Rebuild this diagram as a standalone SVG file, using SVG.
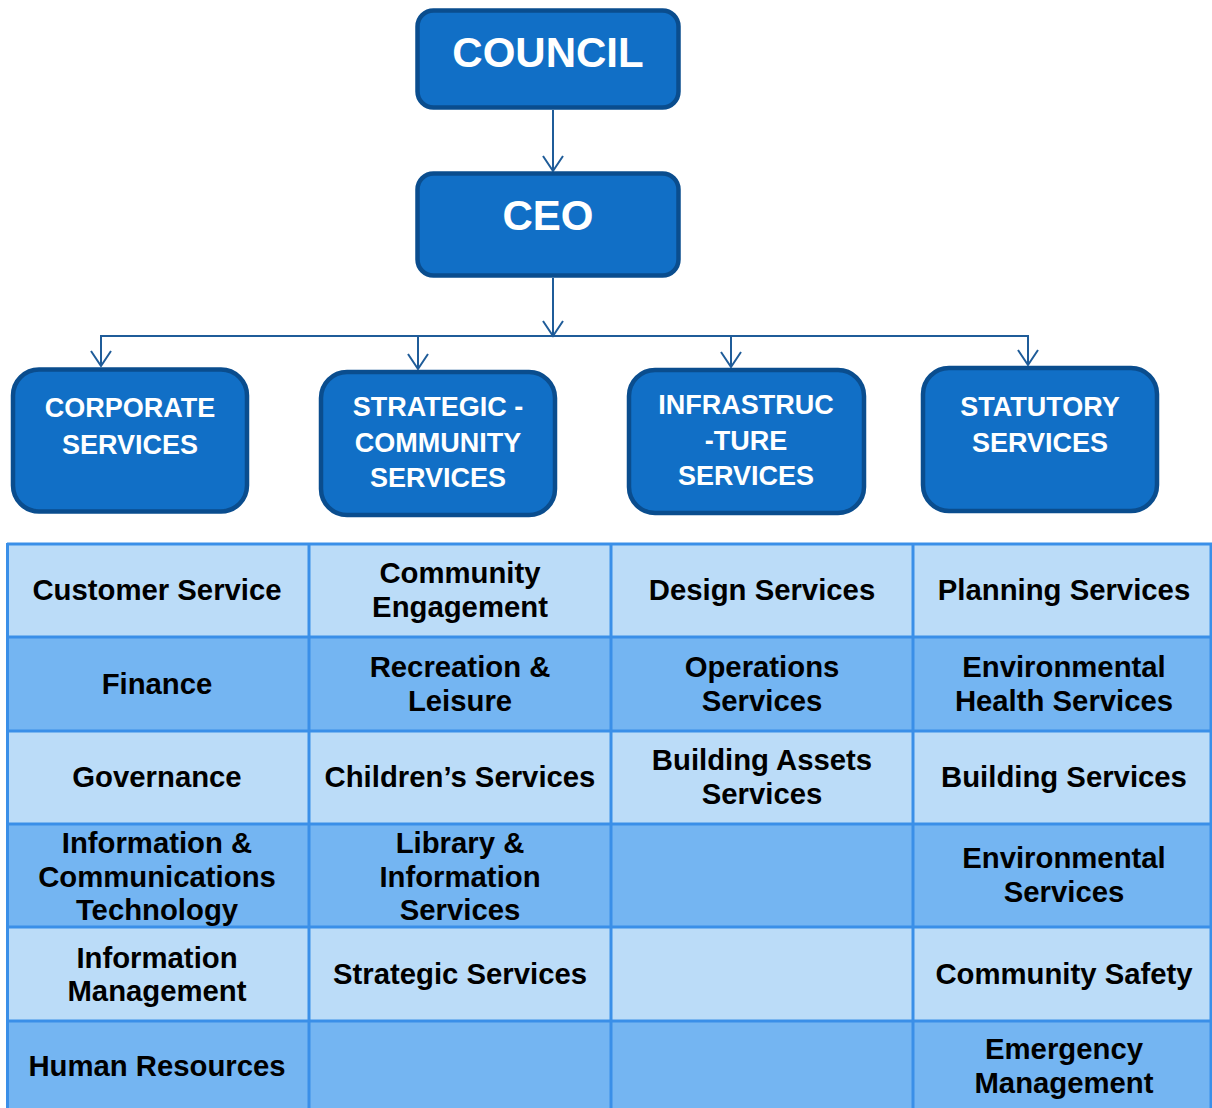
<svg xmlns="http://www.w3.org/2000/svg" width="1212" height="1108" viewBox="0 0 1212 1108">
  <defs>
    <marker id="vee" markerUnits="userSpaceOnUse" markerWidth="24" markerHeight="20" viewBox="-12 -18 24 20" refX="0" refY="0" orient="auto-start-reverse" overflow="visible">
      <path d="M-15,-10 L0,0 L-15,10" fill="none" stroke="#1F5C99" stroke-width="2"/>
    </marker>
    <style>
      .box { fill: #116FC6; stroke: #0A4D8E; stroke-width: 4.5; }
      .big { font-family: "Liberation Sans", Arial, sans-serif; font-weight: bold; font-size: 42px; fill: #FFFFFF; text-anchor: middle; }
      .mid { font-family: "Liberation Sans", Arial, sans-serif; font-weight: bold; font-size: 27px; fill: #FFFFFF; text-anchor: middle; }
      .conn { fill: none; stroke: #1F5C99; stroke-width: 2; }
      .light { fill: #BBDCF8; }
      .dark { fill: #74B5F2; }
      .grid { stroke: #3A8FE8; stroke-width: 3; fill: none; }
      .cell { font-family: "Liberation Sans", Arial, sans-serif; font-weight: bold; font-size: 29.3px; fill: #000000; text-anchor: middle; }
    </style>
  </defs>

  <rect width="1212" height="1108" fill="#FFFFFF"/>

  <!-- connectors -->
  <g id="connectors">
    <line class="conn" x1="553" y1="110" x2="553" y2="171" marker-end="url(#vee)"/>
    <line class="conn" x1="553" y1="278" x2="553" y2="336" marker-end="url(#vee)"/>
    <polyline class="conn" points="101,366 101,336 1028,336 1028,365" marker-end="url(#vee)" marker-start="url(#vee)"/>
    <line class="conn" x1="418" y1="336" x2="418" y2="369" marker-end="url(#vee)"/>
    <line class="conn" x1="731" y1="336" x2="731" y2="367" marker-end="url(#vee)"/>
  </g>

  <!-- top level -->
  <g id="council">
    <rect class="box" x="417.5" y="10.5" width="261" height="97" rx="16"/>
    <text class="big" x="548" y="67">COUNCIL</text>
  </g>
  <g id="ceo">
    <rect class="box" x="417.5" y="173.5" width="261" height="102" rx="16"/>
    <text class="big" x="548" y="230">CEO</text>
  </g>

  <!-- directorates -->
  <g id="corporate">
    <rect class="box" x="13" y="369.5" width="234" height="142" rx="26"/>
    <text class="mid" x="130" y="417">CORPORATE</text>
    <text class="mid" x="130" y="454">SERVICES</text>
  </g>
  <g id="strategic">
    <rect class="box" x="321" y="372" width="234" height="143" rx="26"/>
    <text class="mid" x="438" y="416">STRATEGIC -</text>
    <text class="mid" x="438" y="451.5">COMMUNITY</text>
    <text class="mid" x="438" y="487">SERVICES</text>
  </g>
  <g id="infrastructure">
    <rect class="box" x="629" y="370" width="235" height="143" rx="26"/>
    <text class="mid" x="746" y="413.5">INFRASTRUC</text>
    <text class="mid" x="746" y="450">-TURE</text>
    <text class="mid" x="746" y="484.5">SERVICES</text>
  </g>
  <g id="statutory">
    <rect class="box" x="923" y="368" width="234" height="143" rx="26"/>
    <text class="mid" x="1040" y="415.5">STATUTORY</text>
    <text class="mid" x="1040" y="451.5">SERVICES</text>
  </g>

  <!-- service table -->
  <g id="table">
    <rect class="light" x="7" y="543" width="1206" height="94"/>
    <rect class="dark" x="7" y="637" width="1206" height="94"/>
    <rect class="light" x="7" y="731" width="1206" height="93"/>
    <rect class="dark" x="7" y="824" width="1206" height="103"/>
    <rect class="light" x="7" y="927" width="1206" height="94"/>
    <rect class="dark" x="7" y="1021" width="1206" height="94"/>
    <g class="grid">
      <line x1="7" y1="544" x2="1212" y2="544"/>
      <line x1="7" y1="637" x2="1212" y2="637"/>
      <line x1="7" y1="731" x2="1212" y2="731"/>
      <line x1="7" y1="824" x2="1212" y2="824"/>
      <line x1="7" y1="927" x2="1212" y2="927"/>
      <line x1="7" y1="1021" x2="1212" y2="1021"/>
      <line x1="7.5" y1="543" x2="7.5" y2="1108"/>
      <line x1="309" y1="543" x2="309" y2="1108"/>
      <line x1="611" y1="543" x2="611" y2="1108"/>
      <line x1="913" y1="543" x2="913" y2="1108"/>
      <line x1="1211" y1="543" x2="1211" y2="1108"/>
    </g>

    <!-- row 1 -->
    <text class="cell" x="157" y="600">Customer Service</text>
    <text class="cell" x="460" y="583">Community</text>
    <text class="cell" x="460" y="617">Engagement</text>
    <text class="cell" x="762" y="600">Design Services</text>
    <text class="cell" x="1064" y="600">Planning Services</text>

    <!-- row 2 -->
    <text class="cell" x="157" y="694">Finance</text>
    <text class="cell" x="460" y="677">Recreation &amp;</text>
    <text class="cell" x="460" y="711">Leisure</text>
    <text class="cell" x="762" y="677">Operations</text>
    <text class="cell" x="762" y="711">Services</text>
    <text class="cell" x="1064" y="677">Environmental</text>
    <text class="cell" x="1064" y="711">Health Services</text>

    <!-- row 3 -->
    <text class="cell" x="157" y="787">Governance</text>
    <text class="cell" x="460" y="787">Children’s Services</text>
    <text class="cell" x="762" y="770">Building Assets</text>
    <text class="cell" x="762" y="804">Services</text>
    <text class="cell" x="1064" y="787">Building Services</text>

    <!-- row 4 -->
    <text class="cell" x="157" y="853">Information &amp;</text>
    <text class="cell" x="157" y="886.5">Communications</text>
    <text class="cell" x="157" y="920">Technology</text>
    <text class="cell" x="460" y="853">Library &amp;</text>
    <text class="cell" x="460" y="886.5">Information</text>
    <text class="cell" x="460" y="920">Services</text>
    <text class="cell" x="1064" y="868">Environmental</text>
    <text class="cell" x="1064" y="901.5">Services</text>

    <!-- row 5 -->
    <text class="cell" x="157" y="968">Information</text>
    <text class="cell" x="157" y="1001">Management</text>
    <text class="cell" x="460" y="984">Strategic Services</text>
    <text class="cell" x="1064" y="984">Community Safety</text>

    <!-- row 6 -->
    <text class="cell" x="157" y="1076">Human Resources</text>
    <text class="cell" x="1064" y="1059">Emergency</text>
    <text class="cell" x="1064" y="1093">Management</text>
  </g>
</svg>
